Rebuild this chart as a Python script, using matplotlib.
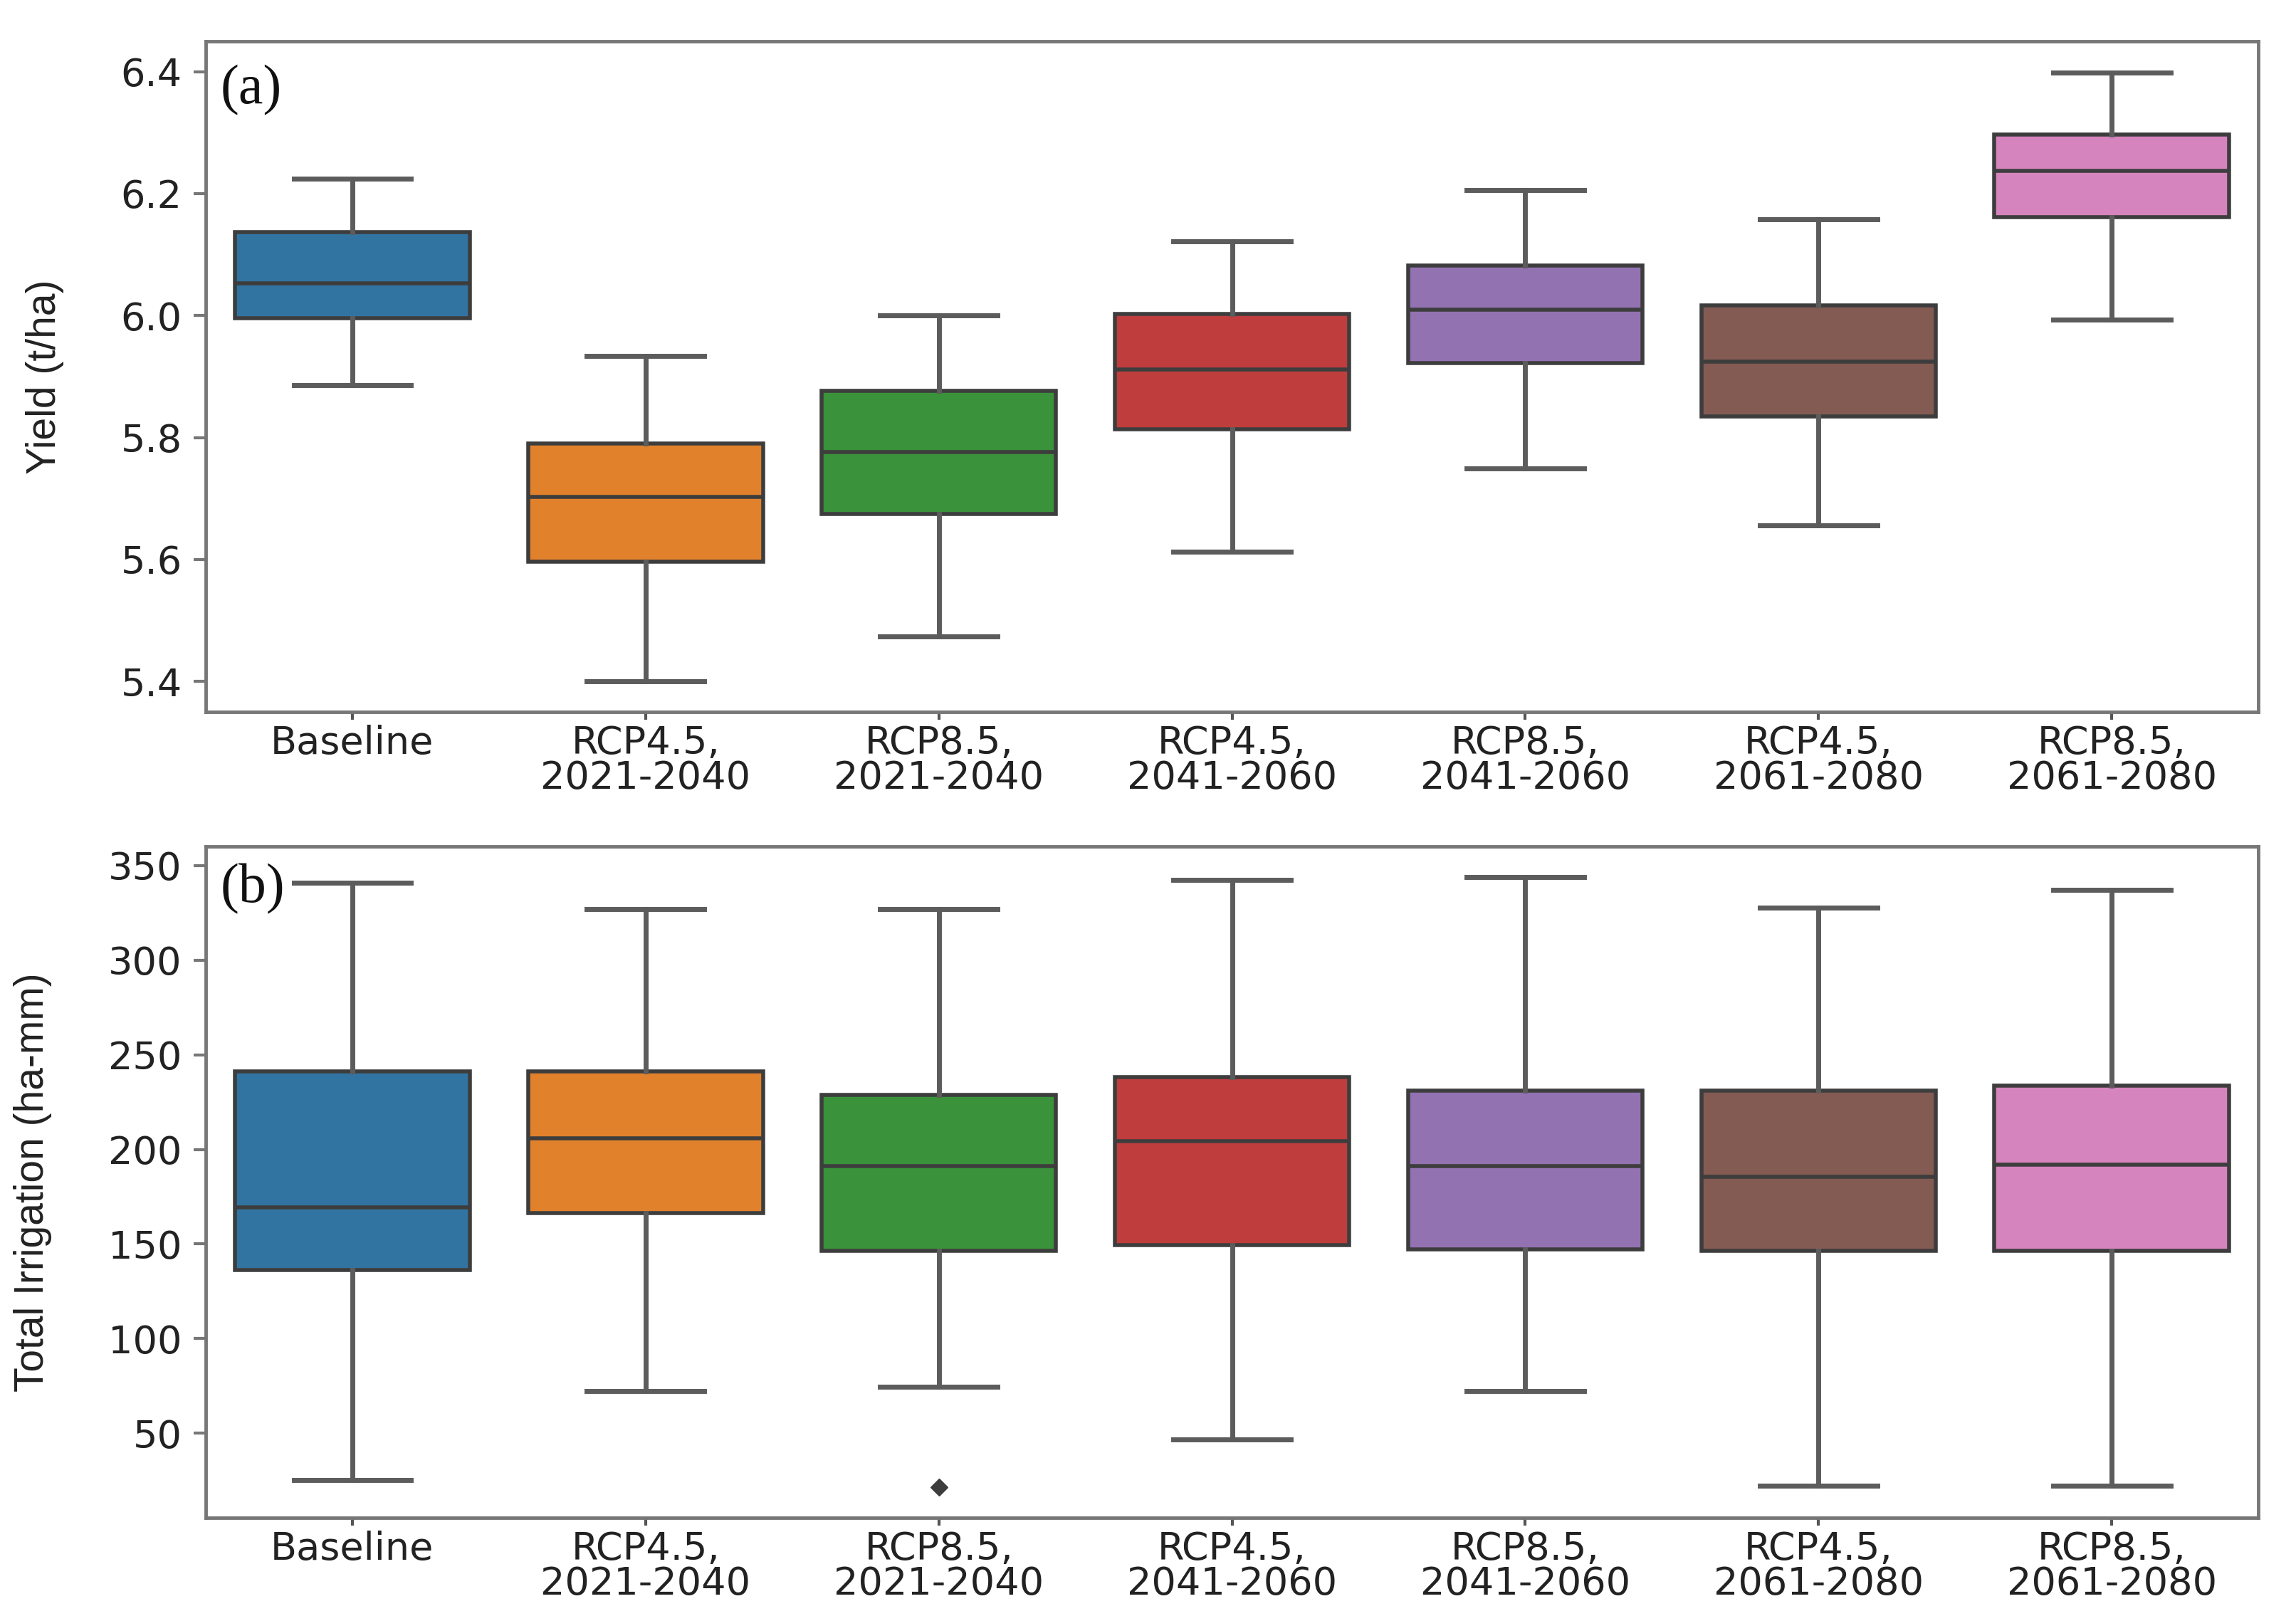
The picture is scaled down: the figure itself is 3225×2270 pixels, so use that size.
import matplotlib
matplotlib.use("Agg")
import matplotlib.pyplot as plt

# categories
labels = ["Baseline", "RCP4.5,\n2021-2040", "RCP8.5,\n2021-2040", "RCP4.5,\n2041-2060",
          "RCP8.5,\n2041-2060", "RCP4.5,\n2061-2080", "RCP8.5,\n2061-2080"]

# (a) yield, t/ha
yield_lo = [5.886, 5.400, 5.474, 5.613, 5.749, 5.656, 5.993]
yield_q1 = [5.996, 5.596, 5.675, 5.814, 5.922, 5.835, 6.161]
yield_med = [6.053, 5.703, 5.776, 5.912, 6.010, 5.924, 6.237]
yield_q3 = [6.137, 5.790, 5.876, 6.003, 6.082, 6.017, 6.297]
yield_hi = [6.225, 5.934, 6.000, 6.122, 6.206, 6.158, 6.398]
yield_out = [[], [], [], [], [], [], []]

# (b) total irrigation, ha-mm
irr_lo = [25.3, 72.4, 74.7, 46.9, 72.4, 22.2, 22.2]
irr_q1 = [136.4, 166.5, 146.4, 149.5, 147.2, 146.4, 146.4]
irr_med = [169.5, 205.8, 191.0, 204.3, 191.0, 185.7, 191.9]
irr_q3 = [241.3, 241.3, 228.9, 238.2, 231.2, 231.2, 233.6]
irr_hi = [340.7, 326.9, 326.9, 342.3, 343.8, 327.6, 336.9]
irr_out = [[], [], [21.5], [], [], [], []]

# seaborn-ish desaturated tab10
colors = ["#3274a1", "#e1812c", "#3a923a", "#c03d3e", "#9372b2", "#845b53", "#d684bd"]
edge = "#3d3d3d"
wcol = "#5c5c5c"


def make_stats(lo, q1, med, q3, hi, out):
    st = []
    for i in range(len(lo)):
        st.append(dict(whislo=lo[i], q1=q1[i], med=med[i], q3=q3[i], whishi=hi[i], fliers=out[i]))
    return st


def draw(ax, stats, ylabel, tag, tag_y):
    pos = list(range(len(stats)))
    bp = ax.bxp(stats, positions=pos, widths=0.8, patch_artist=True, showfliers=True,
                boxprops=dict(edgecolor=edge, linewidth=4),
                medianprops=dict(color=edge, linewidth=4),
                whiskerprops=dict(color=wcol, linewidth=5),
                capprops=dict(color=wcol, linewidth=5),
                flierprops=dict(marker="D", markerfacecolor=edge, markeredgecolor=edge,
                                markersize=12))
    for b, c in zip(bp["boxes"], colors):
        b.set_facecolor(c)
    ax.set_xlim(-0.5, len(stats) - 0.5)
    ax.set_xticks(pos)
    ax.set_xticklabels(labels, fontsize=39, color="#222222", linespacing=0.92)
    ax.tick_params(axis="x", length=8, width=3, color="#555555", pad=5)
    ax.tick_params(axis="y", labelsize=39, labelcolor="#222222", length=12, width=3,
                   color="#777777", pad=12)
    for s in ax.spines.values():
        s.set_color("#777777")
        s.set_linewidth(3.5)
    ax.set_ylabel(ylabel, family=["Liberation Sans Narrow", "Liberation Sans", "DejaVu Sans"],
                  fontsize=41, color="#222222")
    ax.text(0.007, tag_y, tag, transform=ax.transAxes, family=["Liberation Serif", "DejaVu Serif"],
            fontsize=56, va="top", ha="left", color="#111111")


fig = plt.figure(figsize=(32.25, 22.7), dpi=100)
ax1 = fig.add_axes([0.0896, 0.5595, 0.894, 0.415])
ax2 = fig.add_axes([0.0896, 0.0608, 0.894, 0.4154])

draw(ax1, make_stats(yield_lo, yield_q1, yield_med, yield_q3, yield_hi, yield_out),
     "Yield (t/ha)", "(a)", 0.965)
ax1.set_ylim(5.35, 6.45)
ax1.set_yticks([5.4, 5.6, 5.8, 6.0, 6.2, 6.4])
ax1.yaxis.set_label_coords(-0.069, 0.5)

draw(ax2, make_stats(irr_lo, irr_q1, irr_med, irr_q3, irr_hi, irr_out),
     "Total Irrigation (ha-mm)", "(b)", 0.975)
ax2.set_ylim(5.4, 360)
ax2.set_yticks([50, 100, 150, 200, 250, 300, 350])
ax2.yaxis.set_label_coords(-0.075, 0.5)

fig.savefig("out.png", dpi=100, facecolor="white")
